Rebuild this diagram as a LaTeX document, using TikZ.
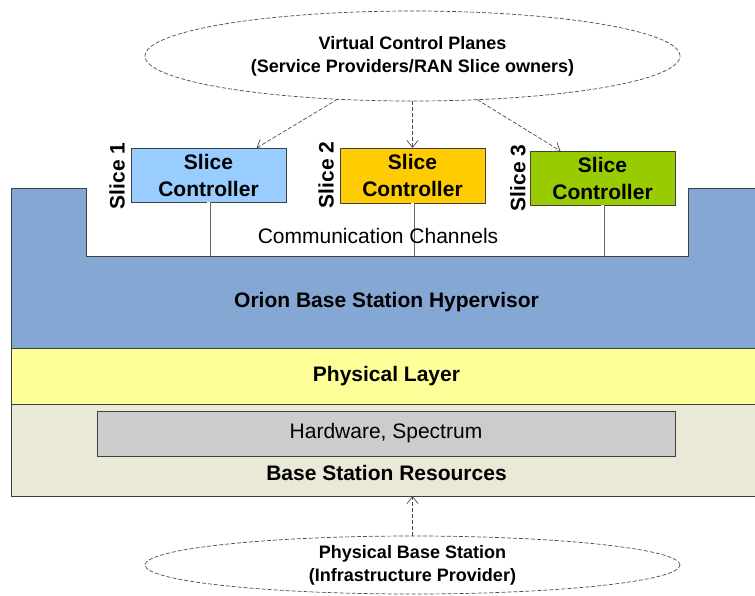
\documentclass[tikz,border=0pt]{standalone}
\usepackage{fontspec}
\setmainfont{Liberation Sans}
\usetikzlibrary{shapes.geometric,arrows.meta}
\definecolor{hvblue}{RGB}{132,167,212}
\definecolor{phyyellow}{RGB}{255,255,153}
\definecolor{resbeige}{RGB}{234,232,214}
\definecolor{hwgray}{RGB}{204,204,204}
\definecolor{sliceblue}{RGB}{153,204,255}
\definecolor{sliceorange}{RGB}{255,204,0}
\definecolor{slicegreen}{RGB}{153,204,0}
\definecolor{edge}{RGB}{64,64,64}
\tikzset{
  outline/.style={draw=edge, line width=0.8pt},
  layer/.style={outline, rectangle, inner sep=0pt, outer sep=0pt},
  slicebox/.style={layer, font=\fontsize{21}{27}\selectfont\bfseries, align=center},
  slicetag/.style={rotate=90, inner sep=0pt, font=\fontsize{21}{21}\selectfont\bfseries},
  bigtext/.style={inner sep=0pt, font=\fontsize{21}{21}\selectfont\bfseries},
  plaintext/.style={inner sep=0pt, font=\fontsize{21}{21}\selectfont},
  cloud/.style={ellipse, draw=black!70, dash pattern=on 4pt off 2pt, line width=0.7pt,
    inner sep=0pt, outer sep=0pt, align=center, font=\fontsize{18}{23}\selectfont\bfseries},
  flow/.style={draw=black!70, dash pattern=on 4pt off 2pt, line width=0.7pt,
    -{Straight Barb[length=7pt,width=11pt]}},
  stem/.style={draw=black!60, double=white, double distance=2.4pt, line width=0.8pt}
}
\begin{document}
\begin{tikzpicture}[x=1pt,y=-1pt]
\useasboundingbox (0,0) rectangle (755,595);

% hypervisor block with the recessed top where the slice controllers sit
\path[fill=hvblue, outline]
  (11,348) -- (11,188) -- (86,188) -- (86,256) -- (688,256) -- (688,188)
  -- (762,188) -- (762,348) -- cycle;
\coordinate (hvtop) at (386,256);
\node[bigtext] (hvlabel) at (386.5,302) {Orion Base Station Hypervisor};

% physical layer and base station resources
\node[layer, fill=phyyellow, minimum width=751pt, minimum height=56pt] (phy) at (386.5,376)
  {\fontsize{21}{21}\selectfont\bfseries Physical Layer};
\node[layer, fill=resbeige, minimum width=751pt, minimum height=92pt] (res) at (386.5,450) {};
\node[layer, fill=hwgray, minimum width=578pt, minimum height=45pt, font=\fontsize{21}{21}\selectfont]
  (hw) at (386,433.5) {Hardware, Spectrum};
\node[bigtext] (reslabel) at (386.5,473) {Base Station Resources};

% slice controllers
\node[slicebox, fill=sliceblue, minimum width=155pt, minimum height=54pt] (sc1) at (208.5,175) {Slice\\Controller};
\node[slicebox, fill=sliceorange, minimum width=145pt, minimum height=55pt] (sc2) at (412.5,175.5) {Slice\\Controller};
\node[slicebox, fill=slicegreen, minimum width=145pt, minimum height=54pt] (sc3) at (602.5,178) {Slice\\Controller};

\node[slicetag] (tag1) at (117,176) {Slice 1};
\node[slicetag] (tag2) at (326,175) {Slice 2};
\node[slicetag] (tag3) at (518,178) {Slice 3};

% communication channels down to the hypervisor
\draw[stem] (sc1.south) -- (sc1.south |- hvtop);
\draw[stem] (sc2.south) -- (sc2.south |- hvtop);
\draw[stem] (sc3.south) -- (sc3.south |- hvtop);
\node[plaintext] (comm) at (378,236) {Communication Channels};

% control planes and infrastructure provider
\node[cloud, minimum width=535pt, minimum height=90pt] (vcp) at (412.5,56)
  {Virtual Control Planes\\(Service Providers/RAN Slice owners)};
\node[cloud, minimum width=535pt, minimum height=58pt] (bps) at (412.5,565)
  {Physical Base Station\\(Infrastructure Provider)};

\draw[flow] (vcp.210.5) -- ([xshift=48pt]sc1.north);
\draw[flow] (vcp.south) -- (sc2.north);
\draw[flow] (vcp.326.8) -- ([xshift=-42pt]sc3.north);
\draw[flow] (bps.north) -- (bps.north |- res.south);
\end{tikzpicture}
\end{document}
